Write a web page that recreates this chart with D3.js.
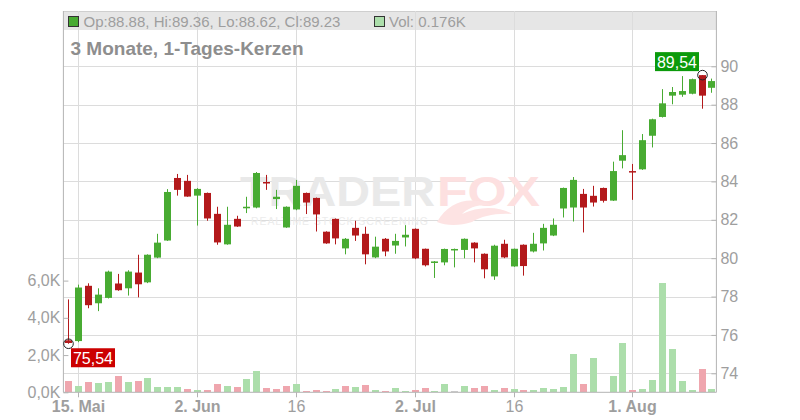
<!DOCTYPE html>
<html>
<head>
<meta charset="utf-8">
<script src="https://cdnjs.cloudflare.com/ajax/libs/d3/7.8.5/d3.min.js"></script>
<style>
  html, body { margin: 0; padding: 0; background: #fff; }
  svg { display: block; font-family: "Liberation Sans", Arial, sans-serif; }
</style>
</head>
<body>
<svg id="chart" width="800" height="420"></svg>
<script>
// ---------- DATA ----------
const dates = [
  "2025-05-14","2025-05-15","2025-05-16","2025-05-19","2025-05-20","2025-05-21","2025-05-22","2025-05-23",
  "2025-05-26","2025-05-27","2025-05-28","2025-05-29","2025-05-30",
  "2025-06-02","2025-06-03","2025-06-04","2025-06-05","2025-06-06","2025-06-09","2025-06-10","2025-06-11",
  "2025-06-12","2025-06-13","2025-06-16","2025-06-17","2025-06-18","2025-06-19","2025-06-20","2025-06-23",
  "2025-06-24","2025-06-25","2025-06-26","2025-06-27","2025-06-30","2025-07-01",
  "2025-07-02","2025-07-03","2025-07-04","2025-07-07","2025-07-08","2025-07-09","2025-07-10","2025-07-11",
  "2025-07-14","2025-07-15","2025-07-16","2025-07-17","2025-07-18","2025-07-21","2025-07-22","2025-07-23",
  "2025-07-24","2025-07-25","2025-07-28","2025-07-29","2025-07-30","2025-07-31",
  "2025-08-01","2025-08-04","2025-08-05","2025-08-06","2025-08-07","2025-08-08","2025-08-11","2025-08-12","2025-08-13"
];
const opens = [
  75.72,75.68,78.56,77.65,77.93,78.68,78.43,79.25,78.74,80.03,80.92,84.18,84.03,
  83.26,83.40,82.31,80.72,82.05,82.60,82.64,83.97,83.08,81.60,
  82.54,83.40,83.14,81.38,82.05,80.51,81.58,81.27,80.04,81.01,80.66,81.08,
  81.53,80.49,79.75,79.78,80.43,80.43,80.81,80.23,79.05,80.75,
  79.57,80.70,80.35,80.77,81.18,82.59,82.64,83.35,83.25,83.66,83.00,85.08,
  84.54,84.63,86.38,87.36,88.47,88.52,88.57,89.54,88.88
];
const highs = [
  77.85,78.62,78.69,78.43,79.35,79.18,79.37,80.18,80.20,81.27,83.60,84.39,84.34,
  83.65,83.42,82.68,82.68,82.21,83.20,84.49,84.34,83.56,82.70,
  84.08,83.42,83.16,81.40,82.07,81.05,81.95,81.64,81.12,81.05,81.27,81.72,
  81.55,80.50,79.85,80.50,80.50,81.03,80.83,80.25,80.70,80.96,
  80.50,80.72,81.32,81.79,82.07,83.68,84.23,83.61,83.77,83.68,85.03,86.67,
  84.91,86.47,87.27,88.81,88.92,89.49,89.36,89.54,89.36
];
const lows = [
  75.54,75.62,77.39,77.24,77.90,78.30,78.05,77.96,78.70,80.00,80.90,83.26,83.20,
  81.70,81.95,80.70,80.70,81.63,82.35,82.60,83.56,82.56,81.58,
  82.50,82.30,81.39,80.75,80.72,80.20,80.90,79.68,80.00,80.10,80.23,80.61,
  79.95,79.57,78.97,79.63,79.52,79.99,79.78,78.95,78.87,80.00,
  79.55,79.09,80.30,80.40,81.15,82.12,81.91,81.34,82.69,82.90,82.98,84.68,
  83.04,84.60,85.77,87.33,88.02,88.41,88.54,87.79,88.62
];
const closes = [
  75.58,78.47,77.55,78.10,79.30,78.33,79.30,78.64,80.18,80.81,83.45,83.56,83.21,
  83.61,82.07,80.82,81.74,81.65,82.68,84.44,83.90,83.20,82.68,
  83.77,82.90,82.28,80.77,81.03,81.01,81.18,80.20,80.60,80.35,80.90,81.22,
  79.99,79.63,79.83,80.48,80.48,81.01,80.51,79.42,80.65,80.04,
  80.49,79.59,80.75,81.58,81.74,83.66,84.08,82.64,82.90,82.99,84.54,85.37,
  84.48,86.15,87.24,88.07,88.66,88.71,89.33,88.47,89.23
];
// volume in thousands
const volumes = [
  0.61,0.34,0.54,0.48,0.54,0.86,0.54,0.59,0.75,0.27,0.27,0.27,0.16,
  0.11,0.11,0.43,0.32,0.27,0.70,1.13,0.21,0.16,0.32,
  0.43,0.05,0.11,0.05,0.16,0.32,0.27,0.38,0.11,0.05,0.21,0.05,
  0.11,0.21,0.05,0.43,0.05,0.32,0.21,0.32,0.11,0.21,
  0.16,0.11,0.11,0.21,0.16,0.27,2.04,0.43,1.82,0.02,0.86,2.63,
  0.11,0.16,0.64,5.85,2.31,0.59,0.11,1.23,0.176
];
const tickDates  = ["2025-05-15","2025-06-02","2025-06-16","2025-07-02","2025-07-16","2025-08-01"];
const tickLabels = ["15. Mai","2. Jun","16","2. Jul","16","1. Aug"];
const tickBold   = [true, true, false, true, false, true];
const priceTicks = [74,76,78,80,82,84,86,88,90];
const volTicks = [0,2,4,6];
const volTickLabels = ["0,0K","2,0K","4,0K","6,0K"];
const title = "3 Monate, 1-Tages-Kerzen";
const minLabel = "75,54", maxLabel = "89,54";

// ---------- LAYOUT ----------
const L = 63.4, R = 716.4, TOP = 11, BOT = 392.3;
const svg = d3.select("#chart");
const C = {
  up: "#48ab32", down: "#b3191b", vUp: "#acdeab", vDown: "#efa6ae", vFlat: "#cccccc",
  grid: "#dcdcdc", axis: "#b3b3b3", text: "#9e9e9e"
};

const x = d3.scaleBand().domain(dates).range([L, R]).paddingInner(0).paddingOuter(0);
const y = d3.scaleLinear().domain([74, 90]).range([373.3, 66.3]);
const yv = d3.scaleLinear().domain([0, 6]).range([BOT, 280.6]);
const cx = d => Math.round(x(d) + x.bandwidth() / 2);

// legend band
svg.append("rect").attr("x", L).attr("y", TOP).attr("width", R - L).attr("height", 19).attr("fill", "#e6e6e6");
svg.append("line").attr("x1", L).attr("x2", R).attr("y1", TOP + 0.5).attr("y2", TOP + 0.5).attr("stroke", "#cfcfcf");

// grid
const g = svg.append("g");
g.selectAll("line.h").data(priceTicks).join("line")
  .attr("x1", L).attr("x2", R)
  .attr("y1", d => Math.round(y(d)) + 0.5).attr("y2", d => Math.round(y(d)) + 0.5)
  .attr("stroke", C.grid);
g.selectAll("line.v").data(tickDates).join("line")
  .attr("x1", d => cx(d) + 0.5).attr("x2", d => cx(d) + 0.5)
  .attr("y1", TOP).attr("y2", BOT)
  .attr("stroke", C.grid);

// watermark
const wm = svg.append("g");
wm.append("text").attr("x", 240).attr("y", 206).attr("font-size", 42).attr("font-weight", "bold")
  .attr("textLength", 195).attr("lengthAdjust", "spacingAndGlyphs")
  .attr("fill", "#e9e9e9").text("TRADER");
wm.append("text").attr("x", 437).attr("y", 206).attr("font-size", 42).attr("font-weight", "bold")
  .attr("textLength", 103).attr("lengthAdjust", "spacingAndGlyphs")
  .attr("fill", "#fde0e0").text("FOX");
wm.append("text").attr("x", 251).attr("y", 224.5).attr("font-size", 10.5)
  .attr("textLength", 177).attr("lengthAdjust", "spacing")
  .attr("fill", "#ececec").text("REALTIME STOCK SCREENING");
wm.append("path")
  .attr("d", "M437,222 C450,200 470,196 492,205 C478,204 468,208 462,214 C478,206 500,206 512,214 C495,213 482,216 472,222 C460,226 446,226 437,222 Z")
  .attr("fill", "#fde3e3");

// title & legend
svg.append("text").attr("x", 70.5).attr("y", 54.5).attr("font-size", 19).attr("font-weight", "bold")
  .attr("fill", "#8e8e8e").text(title);
const last = dates.length - 1;
svg.append("rect").attr("x", 68.5).attr("y", 16.5).attr("width", 10).attr("height", 10)
  .attr("fill", C.up).attr("stroke", "#333");
svg.append("text").attr("x", 83.6).attr("y", 27).attr("font-size", 15).attr("fill", C.text)
  .text(`Op:${opens[last].toFixed(2)}, Hi:${highs[last].toFixed(2)}, Lo:${lows[last].toFixed(2)}, Cl:${closes[last].toFixed(2)}`);
svg.append("rect").attr("x", 374.5).attr("y", 16.5).attr("width", 10).attr("height", 10)
  .attr("fill", C.vUp).attr("stroke", "#333");
svg.append("text").attr("x", 389).attr("y", 27).attr("font-size", 15).attr("fill", C.text)
  .text(`Vol: ${volumes[last].toFixed(3)}K`);

// volume bars
svg.append("g").selectAll("rect").data(dates).join("rect")
  .attr("x", d => cx(d) - 3).attr("width", 7)
  .attr("y", (d, i) => Math.round(yv(volumes[i])))
  .attr("height", (d, i) => Math.max(0, Math.round(BOT) - Math.round(yv(volumes[i]))))
  .attr("fill", (d, i) => {
    if (i === 0) return C.vDown;
    return closes[i] > closes[i - 1] ? C.vUp : closes[i] < closes[i - 1] ? C.vDown : C.vFlat;
  });

// candles
const cg = svg.append("g");
dates.forEach((d, i) => {
  const col = closes[i] >= opens[i] ? C.up : C.down;
  const xc = cx(d);
  cg.append("line").attr("x1", xc + 0.5).attr("x2", xc + 0.5)
    .attr("y1", y(highs[i])).attr("y2", y(lows[i])).attr("stroke", col).attr("stroke-width", 1);
  const yt = y(Math.max(opens[i], closes[i])), yb = y(Math.min(opens[i], closes[i]));
  cg.append("rect").attr("x", xc - 3).attr("width", 7)
    .attr("y", yt).attr("height", Math.max(1.5, yb - yt)).attr("fill", col);
});

// axes
const axR = svg.append("g").attr("transform", `translate(${R},0)`)
  .call(d3.axisRight(y).tickValues(priceTicks).tickSize(-5).tickPadding(4).tickFormat(d3.format("d")));
const axL = svg.append("g").attr("transform", `translate(${L},0)`)
  .call(d3.axisLeft(yv).tickValues(volTicks).tickSize(-5).tickPadding(3).tickFormat((d, i) => volTickLabels[i]));
const axB = svg.append("g").attr("transform", `translate(0,${BOT})`)
  .call(d3.axisBottom(x).tickValues(tickDates).tickSize(5).tickPadding(3).tickFormat((d, i) => tickLabels[i]));
[axR, axL, axB].forEach(a => {
  a.select(".domain").remove();
  a.selectAll(".tick line").attr("stroke", C.axis);
  a.selectAll(".tick text").attr("fill", C.text).attr("font-size", 16)
    .attr("font-family", "'Liberation Sans', Arial, sans-serif");
});
axB.selectAll(".tick text").attr("font-weight", (d, i) => tickBold[i] ? "bold" : "normal");
axB.selectAll(".tick").attr("transform", d => `translate(${cx(d) + 0.5},0)`);
// axis lines
svg.append("line").attr("x1", L).attr("x2", L).attr("y1", TOP).attr("y2", BOT).attr("stroke", C.axis);
svg.append("line").attr("x1", R).attr("x2", R).attr("y1", TOP).attr("y2", BOT).attr("stroke", C.axis);
svg.append("line").attr("x1", L).attr("x2", R).attr("y1", BOT).attr("y2", BOT).attr("stroke", C.axis);

// min / max markers
const iMin = d3.minIndex(lows), iMax = d3.maxIndex(highs);
const mk = svg.append("g");
mk.append("circle").attr("cx", cx(dates[iMin]) + 0.5).attr("cy", y(lows[iMin])).attr("r", 4.8)
  .attr("fill", "none").attr("stroke", "#222").attr("stroke-width", 1);
mk.append("circle").attr("cx", cx(dates[iMax]) + 0.5).attr("cy", y(highs[iMax])).attr("r", 4.8)
  .attr("fill", "none").attr("stroke", "#222").attr("stroke-width", 1);
const minX = cx(dates[iMin]) + 3, minY = y(lows[iMin]) + 4.5;
mk.append("rect").attr("x", minX).attr("y", minY).attr("width", 44).attr("height", 19).attr("fill", "#cc0000");
mk.append("text").attr("x", minX + 22).attr("y", minY + 15.5).attr("text-anchor", "middle")
  .attr("font-size", 16).attr("fill", "#fff").text(minLabel);
const maxX = cx(dates[iMax]) - 3, maxY = y(highs[iMax]) - 4;
mk.append("rect").attr("x", maxX - 44).attr("y", maxY - 19).attr("width", 44).attr("height", 19).attr("fill", "#0b9a0b");
mk.append("text").attr("x", maxX - 22).attr("y", maxY - 3.5).attr("text-anchor", "middle")
  .attr("font-size", 16).attr("fill", "#fff").text(maxLabel);
</script>
</body>
</html>
